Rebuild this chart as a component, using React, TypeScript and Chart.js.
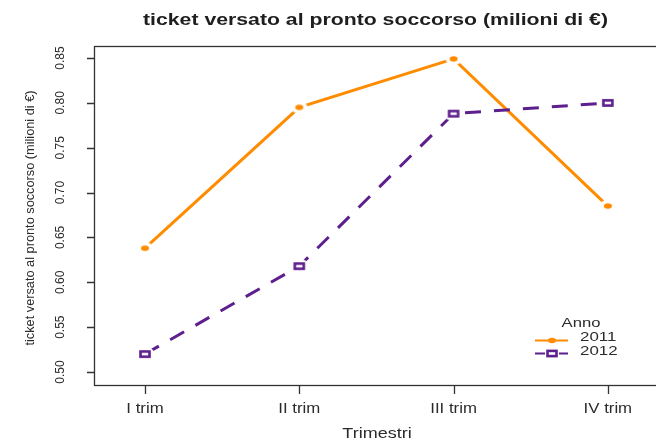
import React, { useEffect, useRef } from "react";
import { Chart, registerables } from "chart.js";
Chart.register(...registerables);

const categories = ["I trim", "II trim", "III trim", "IV trim"];
const series2011 = [0.638, 0.795, 0.849, 0.685];
const series2012 = [0.52, 0.618, 0.788, 0.8];
const yTicks = [0.5, 0.55, 0.6, 0.65, 0.7, 0.75, 0.8, 0.85];
const seriesNames = ["2011", "2012"];
const chartTitle = "ticket versato al pronto soccorso (milioni di €)";
const xTitle = "Trimestri";
const yTitle = "ticket versato al pronto soccorso (milioni di €)";
const legendTitle = "Anno";

const ORANGE = "#FF8C00";
const PURPLE = "#5E1F8E";
const INK = "#2b2b2b";
const FONT = '"Liberation Sans", Arial, sans-serif';

function drawDot(g: CanvasRenderingContext2D, x: number, y: number) {
  g.fillStyle = ORANGE;
  g.beginPath();
  g.ellipse(x, y, 4, 2.8, 0, 0, Math.PI * 2);
  g.fill();
}
function drawSquare(g: CanvasRenderingContext2D, x: number, y: number) {
  g.strokeStyle = PURPLE;
  g.lineWidth = 2.6;
  g.setLineDash([]);
  g.fillStyle = "#fff";
  g.fillRect(x - 4.5, y - 2.6, 9, 5.2);
  g.strokeRect(x - 4.5, y - 2.6, 9, 5.2);
}
function makeMarker(kind: "dot" | "square"): HTMLCanvasElement {
  const c = document.createElement("canvas");
  c.width = 20;
  c.height = 20;
  const g = c.getContext("2d")!;
  g.fillStyle = "#fff";
  g.beginPath();
  g.ellipse(10, 10, kind === "dot" ? 8 : 9.5, kind === "dot" ? 6.5 : 7.5, 0, 0, Math.PI * 2);
  g.fill();
  if (kind === "dot") drawDot(g, 10, 10);
  else drawSquare(g, 10, 10);
  return c;
}

function text(
  ctx: CanvasRenderingContext2D,
  s: string,
  x: number,
  y: number,
  font: string,
  o: { sx?: number; width?: number; align?: CanvasTextAlign; rot?: number; base?: CanvasTextBaseline; color?: string } = {}
) {
  ctx.save();
  ctx.font = font;
  ctx.fillStyle = o.color ?? INK;
  ctx.translate(x, y);
  if (o.rot) ctx.rotate(o.rot);
  const w = ctx.measureText(s).width;
  const sx = o.width ? o.width / w : o.sx ?? 1;
  ctx.scale(sx, 1);
  ctx.textAlign = o.align ?? "center";
  ctx.textBaseline = o.base ?? "middle";
  ctx.fillText(s, 0, 0);
  ctx.restore();
}

const decor = {
  id: "decor",
  afterDraw(chart: any) {
    const ctx: CanvasRenderingContext2D = chart.ctx;
    const { left, top, right, bottom } = chart.chartArea;
    const xs = chart.scales.x;
    const ys = chart.scales.y;
    ctx.save();
    ctx.strokeStyle = "#333";
    ctx.lineWidth = 1.3;
    ctx.setLineDash([]);
    ctx.strokeRect(left + 0.5, top + 0.5, right - left - 1, bottom - top - 1);
    ctx.beginPath();
    categories.forEach((_, i) => {
      const x = Math.round(xs.getPixelForValue(i + 1)) + 0.5;
      ctx.moveTo(x, bottom);
      ctx.lineTo(x, bottom + 8);
    });
    yTicks.forEach((v) => {
      const y = Math.round(ys.getPixelForValue(v)) + 0.5;
      ctx.moveTo(left, y);
      ctx.lineTo(left - 7, y);
    });
    ctx.stroke();
    categories.forEach((lab, i) => {
      text(ctx, lab, xs.getPixelForValue(i + 1), 409, `14px ${FONT}`, { sx: 1.2 });
    });
    yTicks.forEach((v) => {
      text(ctx, v.toFixed(2), 61, ys.getPixelForValue(v), `12px ${FONT}`, { rot: -Math.PI / 2 });
    });
    text(ctx, xTitle, 377, 434, `15px ${FONT}`, { sx: 1.2 });
    text(ctx, yTitle, 30, 218, `13px ${FONT}`, { rot: -Math.PI / 2, width: 255 });
    text(ctx, chartTitle, 375.5, 25, `bold 17px ${FONT}`, { width: 465, base: "alphabetic", color: "#1e1e1e" });

    // legend
    text(ctx, legendTitle, 581, 323, `13px ${FONT}`, { sx: 1.28 });
    text(ctx, seriesNames[0], 580, 337, `13px ${FONT}`, { sx: 1.3, align: "left" });
    text(ctx, seriesNames[1], 580, 351, `13px ${FONT}`, { sx: 1.3, align: "left" });
    ctx.lineWidth = 2;
    ctx.strokeStyle = ORANGE;
    ctx.beginPath();
    ctx.moveTo(535, 340.5);
    ctx.lineTo(568, 340.5);
    ctx.stroke();
    drawDot(ctx, 552, 340.5);
    ctx.strokeStyle = PURPLE;
    ctx.beginPath();
    ctx.moveTo(535, 353.5);
    ctx.lineTo(545, 353.5);
    ctx.moveTo(559, 353.5);
    ctx.lineTo(568, 353.5);
    ctx.stroke();
    drawSquare(ctx, 552, 353.5);
    ctx.restore();
  },
};

export default function App() {
  const ref = useRef<HTMLCanvasElement | null>(null);
  useEffect(() => {
    if (!ref.current) return;
    const dot = makeMarker("dot");
    const sq = makeMarker("square");
    const chart = new Chart(ref.current, {
      type: "line",
      data: {
        datasets: [
          {
            label: seriesNames[1],
            data: series2012.map((v, i) => ({ x: i + 1, y: v })),
            borderColor: PURPLE,
            borderWidth: 3,
            borderDash: [16, 13],
            borderCapStyle: "butt",
            pointStyle: sq as any,
            pointRadius: 6,
            fill: false,
            tension: 0,
            order: 0,
          },
          {
            label: seriesNames[0],
            data: series2011.map((v, i) => ({ x: i + 1, y: v })),
            borderColor: ORANGE,
            borderWidth: 3,
            pointStyle: dot as any,
            pointRadius: 6,
            fill: false,
            tension: 0,
            order: 1,
          },
        ],
      },
      options: {
        animation: false,
        responsive: false,
        maintainAspectRatio: false,
        events: [],
        layout: { padding: { left: 94, top: 46, right: 10, bottom: 55 } },
        scales: {
          x: { type: "linear", display: false, min: 0.6695, max: 4.338 },
          y: { type: "linear", display: false, min: 0.4844, max: 0.8634 },
        },
        plugins: {
          legend: { display: false },
          title: { display: false },
          tooltip: { enabled: false },
        },
      },
      plugins: [decor],
    });
    return () => chart.destroy();
  }, []);
  return (
    <div
      style={{
        position: "fixed",
        left: 0,
        top: 0,
        width: 656,
        height: 441,
        overflow: "hidden",
        background: "#fff",
      }}
    >
      <canvas ref={ref} width={670} height={441} style={{ display: "block", width: 670, height: 441 }} />
    </div>
  );
}
